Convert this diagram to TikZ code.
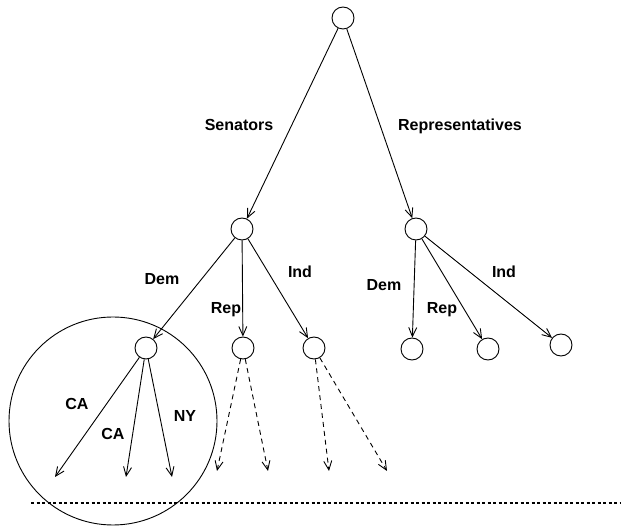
\documentclass[tikz,border=0pt]{standalone}
\usepackage{fontspec}
\setmainfont{Liberation Sans}
\usetikzlibrary{arrows.meta}
\begin{document}
\begin{tikzpicture}[x=1pt,y=-1pt,
  vert/.style={draw,circle,minimum size=22pt,inner sep=0pt,line width=0.9pt},
  lab/.style={font=\bfseries\fontsize{16}{18}\selectfont,inner sep=0pt,anchor=base},
  arr/.style={line width=0.9pt,-{Straight Barb[length=9pt,width=8pt]}},
  darr/.style={arr,dash pattern=on 5pt off 4pt}]
\useasboundingbox (0,0) rectangle (622,529);
\node[vert] (root) at (343,18) {};
\node[vert] (sen) at (242,229) {};
\node[vert] (rep) at (416,229) {};
\node[vert] (d1) at (146,348) {};
\node[vert] (r1) at (243,348) {};
\node[vert] (i1) at (314,348) {};
\node[vert] (d2) at (412,349) {};
\node[vert] (r2) at (488,349) {};
\node[vert] (i2) at (561,345) {};
\node[draw,circle,minimum size=208pt,inner sep=0pt,line width=0.9pt] (big) at (113,421) {};
\coordinate (ca1) at (55,477);
\coordinate (ca2) at (126,477);
\coordinate (ny) at (172,477);
\coordinate (r1a) at (217,471);
\coordinate (r1b) at (268,471);
\coordinate (i1a) at (329,471);
\coordinate (i1b) at (387,471);
\coordinate (dl) at (31,503);
\coordinate (dr) at (620,503);
\draw[arr] (root) -- (sen);
\draw[arr] (root) -- (rep);
\draw[arr] (sen) -- (d1);
\draw[arr] (sen) -- (r1);
\draw[arr] (sen) -- (i1);
\draw[arr] (rep) -- (d2);
\draw[arr] (rep) -- (r2);
\draw[arr] (rep) -- (i2);
\draw[arr] (d1) -- (ca1);
\draw[arr] (d1) -- (ca2);
\draw[arr] (d1) -- (ny);
\draw[darr] (r1) -- (r1a);
\draw[darr] (r1) -- (r1b);
\draw[darr] (i1) -- (i1a);
\draw[darr] (i1) -- (i1b);
\draw[line width=2.2pt,dash pattern=on 3pt off 2.5pt] (dl) -- (dr);
\node[lab] (lsen) at (239,131) {Senators};
\node[lab] (lrep) at (460,131) {Representatives};
\node[lab] (ld1) at (162,285) {Dem};
\node[lab] (lr1) at (226,314) {Rep};
\node[lab] (li1) at (300,278) {Ind};
\node[lab] (ld2) at (384,291) {Dem};
\node[lab] (lr2) at (442,314) {Rep};
\node[lab] (li2) at (504,278) {Ind};
\node[lab] (lca1) at (77,410) {CA};
\node[lab] (lca2) at (113,440) {CA};
\node[lab] (lny) at (185,422) {NY};
\end{tikzpicture}
\end{document}
